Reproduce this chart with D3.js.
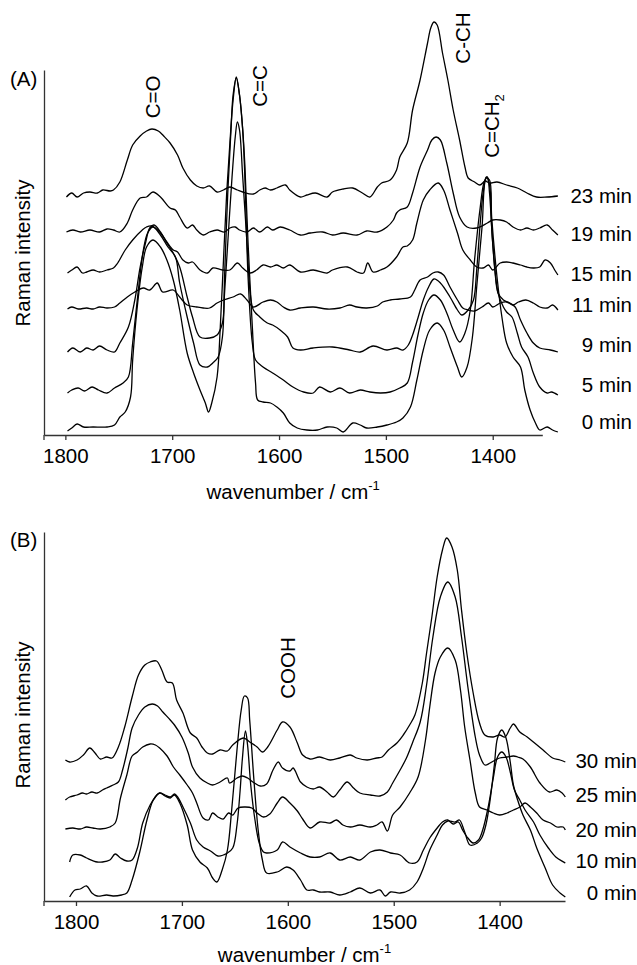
<!DOCTYPE html>
<html><head><meta charset="utf-8">
<script src="https://cdn.jsdelivr.net/npm/d3@7"></script>
<style>
html,body{margin:0;padding:0;background:#fff;}
svg{display:block;}
text{font-family:"Liberation Sans",Arial,Helvetica,sans-serif;fill:#000;}
</style></head><body>
<svg id="chart" width="637" height="965"></svg>
<script>
// ---------- DATA ----------
const wnTicks = [1800, 1700, 1600, 1500, 1400];
const xTitle = "wavenumber / cm";
const xTitleSup = "-1";
const yTitle = "Raman intensity";
const panelTags = ["(A)", "(B)"];

const timesA = ["23 min", "19 min", "15 min", "11 min", "9 min", "5 min", "0 min"];
const timesB = ["30 min", "25 min", "20 min", "10 min", "0 min"];

// band annotations: [label, subscript, wavenumber, intensity]
const bandsA = [["C=O", "", 1711, 338], ["C=C", "", 1611, 349], ["C-CH", "", 1421, 397], ["C=CH", "2", 1394, 309]];
const bandsB = [["COOH", "", 1593, 233]];

// Panel A spectra: [wavenumber (cm-1), intensity (a.u., offset)]
const a23 = [[1799,238],[1794,242],[1789,238],[1783,242],[1777,243],[1770,242],[1765,245],[1758,244],[1755,245],[1749,253],[1742,275],[1737,290],[1730,299],[1724,304],[1719,306],[1713,304],[1708,299],[1702,292],[1695,280],[1690,267],[1683,255],[1677,249],[1671,247],[1665,249],[1658,243],[1652,245],[1646,248],[1639,245],[1634,243],[1624,241],[1618,245],[1613,247],[1608,245],[1602,247],[1594,250],[1590,245],[1580,238],[1574,240],[1566,242],[1555,238],[1550,243],[1540,246],[1531,247],[1522,242],[1515,238],[1508,248],[1504,252],[1496,255],[1490,265],[1487,278],[1480,292],[1475,325],[1468,355],[1461,392],[1458,407],[1455,413],[1452,410],[1447,382],[1442,355],[1437,325],[1431,295],[1426,268],[1423,257],[1417,253],[1412,250],[1407,254],[1403,252],[1396,253],[1387,250],[1377,247],[1368,242],[1359,238],[1349,238],[1339,239]];
const a19 = [[1799,203],[1793,205],[1786,203],[1777,205],[1768,203],[1761,206],[1755,205],[1749,203],[1742,212],[1737,225],[1730,237],[1724,238],[1718,243],[1711,238],[1702,227],[1697,225],[1693,218],[1686,207],[1681,210],[1677,205],[1671,200],[1665,203],[1658,205],[1651,203],[1646,207],[1641,208],[1637,205],[1630,203],[1624,207],[1618,203],[1611,208],[1606,205],[1599,208],[1590,205],[1580,200],[1571,202],[1559,203],[1550,200],[1540,202],[1527,200],[1518,204],[1508,203],[1499,208],[1493,215],[1490,222],[1487,225],[1480,228],[1475,242],[1468,268],[1461,285],[1457,295],[1453,298],[1449,295],[1443,272],[1437,242],[1431,218],[1424,208],[1415,207],[1405,212],[1400,215],[1393,215],[1387,213],[1381,208],[1374,205],[1368,207],[1362,205],[1356,207],[1349,210],[1344,205],[1339,200]];
const a15 = [[1798,162],[1794,165],[1789,168],[1784,162],[1780,163],[1774,165],[1768,163],[1761,165],[1755,167],[1751,172],[1744,185],[1737,195],[1728,205],[1724,208],[1719,209],[1711,202],[1705,193],[1699,185],[1695,183],[1690,175],[1685,172],[1681,173],[1674,165],[1667,162],[1662,167],[1653,165],[1646,165],[1639,172],[1634,167],[1627,162],[1621,165],[1615,170],[1608,168],[1602,170],[1596,167],[1590,170],[1580,163],[1568,165],[1555,162],[1550,165],[1536,168],[1527,163],[1521,162],[1517,172],[1512,163],[1505,165],[1499,168],[1490,178],[1484,188],[1480,189],[1475,195],[1471,212],[1465,235],[1459,245],[1451,252],[1446,245],[1440,225],[1433,202],[1428,185],[1421,175],[1415,168],[1409,167],[1404,170],[1400,165],[1393,172],[1387,173],[1381,172],[1374,170],[1368,168],[1362,167],[1356,168],[1351,175],[1346,172],[1342,165],[1339,160]];
const a11 = [[1798,126],[1794,128],[1788,126],[1780,127],[1774,126],[1768,128],[1761,127],[1754,128],[1749,132],[1742,138],[1735,143],[1727,147],[1721,145],[1714,152],[1709,143],[1699,145],[1693,138],[1686,130],[1677,128],[1671,127],[1665,127],[1658,132],[1652,135],[1643,138],[1636,141],[1630,135],[1624,128],[1615,133],[1608,135],[1602,133],[1596,128],[1590,125],[1580,127],[1568,128],[1555,126],[1543,127],[1534,130],[1527,128],[1518,127],[1508,129],[1503,133],[1496,135],[1487,136],[1477,138],[1473,145],[1468,155],[1461,158],[1456,162],[1451,163],[1446,160],[1440,148],[1433,135],[1428,127],[1423,125],[1417,124],[1410,128],[1404,132],[1400,128],[1393,132],[1387,133],[1381,130],[1376,133],[1369,135],[1362,132],[1356,128],[1349,127],[1344,130],[1339,125]];
const a9 = [[1798,83],[1793,87],[1786,83],[1780,87],[1774,85],[1768,89],[1761,85],[1754,83],[1749,92],[1741,108],[1735,135],[1730,168],[1725,192],[1721,207],[1717,210],[1711,203],[1705,192],[1699,182],[1693,168],[1686,138],[1681,118],[1674,98],[1665,97],[1658,100],[1653,112],[1651,142],[1648,192],[1644,258],[1641,298],[1639,313],[1637,305],[1634,258],[1630,192],[1627,142],[1624,125],[1618,118],[1611,112],[1606,110],[1599,105],[1592,98],[1587,87],[1580,85],[1568,87],[1550,88],[1534,85],[1524,83],[1512,89],[1499,85],[1490,87],[1484,85],[1479,90],[1475,100],[1470,117],[1465,135],[1460,148],[1455,156],[1449,152],[1440,138],[1433,125],[1429,120],[1423,125],[1418,135],[1415,165],[1412,208],[1409,242],[1406,258],[1403,250],[1401,208],[1398,165],[1395,142],[1390,135],[1384,132],[1379,128],[1374,115],[1368,102],[1362,92],[1356,87],[1346,85],[1339,83]];
const a5 = [[1798,42],[1794,45],[1788,47],[1782,44],[1775,48],[1769,45],[1761,42],[1754,47],[1746,52],[1741,58],[1737,92],[1732,142],[1727,185],[1723,202],[1718,208],[1711,200],[1704,188],[1697,178],[1693,152],[1686,118],[1680,92],[1674,70],[1667,68],[1662,72],[1657,78],[1653,98],[1651,158],[1648,242],[1645,305],[1643,340],[1640,357],[1637,340],[1634,305],[1632,258],[1629,158],[1625,92],[1622,75],[1615,68],[1606,62],[1596,55],[1587,48],[1577,43],[1568,42],[1562,48],[1552,43],[1543,47],[1534,42],[1524,45],[1515,43],[1505,42],[1496,43],[1487,47],[1480,52],[1475,73],[1470,100],[1465,122],[1460,135],[1455,140],[1449,135],[1443,122],[1437,105],[1431,93],[1426,102],[1421,125],[1417,175],[1412,225],[1408,253],[1405,258],[1403,242],[1400,192],[1395,142],[1390,128],[1387,123],[1382,118],[1377,102],[1373,88],[1367,78],[1362,62],[1356,48],[1349,42],[1345,43],[1339,40]];
const a0 = [[1798,4],[1794,7],[1789,11],[1783,8],[1774,8],[1761,8],[1754,10],[1749,18],[1744,23],[1739,38],[1737,75],[1733,125],[1728,168],[1724,188],[1718,195],[1711,188],[1705,175],[1699,155],[1693,125],[1686,82],[1680,62],[1674,45],[1669,32],[1666,23],[1663,32],[1658,58],[1655,108],[1652,175],[1649,242],[1646,292],[1643,335],[1640,358],[1637,340],[1634,305],[1632,270],[1629,192],[1625,108],[1622,52],[1620,35],[1615,33],[1608,32],[1602,28],[1596,22],[1590,12],[1583,7],[1574,5],[1564,5],[1555,8],[1546,7],[1540,3],[1531,12],[1524,10],[1518,7],[1508,8],[1499,10],[1490,13],[1484,17],[1477,28],[1471,55],[1465,85],[1459,105],[1452,112],[1446,105],[1440,88],[1433,68],[1429,58],[1424,68],[1419,98],[1415,148],[1410,208],[1406,257],[1403,255],[1401,218],[1396,158],[1391,115],[1387,92],[1381,78],[1374,68],[1370,45],[1365,25],[1360,12],[1356,5],[1349,8],[1344,5],[1339,3]];

// Panel B spectra
const b30 = [[1810,141],[1806,139],[1799,141],[1793,146],[1787,153],[1782,148],[1777,142],[1771,144],[1766,143],[1760,154],[1754,174],[1747,204],[1741,226],[1735,236],[1730,239],[1724,240],[1719,231],[1714,219],[1709,218],[1705,201],[1699,188],[1692,168],[1686,163],[1681,154],[1676,148],[1671,147],[1664,151],[1657,150],[1652,156],[1642,163],[1636,159],[1629,154],[1624,149],[1619,154],[1610,171],[1605,179],[1598,174],[1591,158],[1586,146],[1579,142],[1570,144],[1560,141],[1551,143],[1541,146],[1535,143],[1525,141],[1516,143],[1511,144],[1505,151],[1497,158],[1491,166],[1485,176],[1480,186],[1473,218],[1469,248],[1464,284],[1459,324],[1454,351],[1450,363],[1445,354],[1440,331],[1436,291],[1431,248],[1425,208],[1419,178],[1414,166],[1406,164],[1400,166],[1395,164],[1390,173],[1387,177],[1381,169],[1374,164],[1367,158],[1359,151],[1350,143],[1343,141],[1338,139]];
const b25 = [[1810,101],[1806,104],[1799,106],[1794,108],[1790,107],[1785,109],[1780,108],[1775,111],[1771,113],[1765,116],[1760,119],[1756,131],[1751,153],[1747,173],[1741,186],[1735,194],[1728,197],[1723,195],[1718,189],[1711,181],[1707,176],[1700,164],[1694,148],[1690,134],[1683,123],[1676,118],[1671,116],[1664,119],[1657,123],[1655,118],[1648,123],[1643,125],[1638,123],[1633,119],[1626,115],[1620,117],[1614,131],[1609,139],[1605,133],[1598,130],[1595,133],[1588,119],[1582,114],[1576,112],[1570,114],[1563,109],[1557,104],[1551,111],[1544,119],[1538,113],[1532,108],[1522,106],[1513,105],[1506,109],[1501,118],[1494,131],[1488,143],[1482,159],[1475,179],[1469,216],[1463,264],[1456,304],[1449,319],[1442,304],[1436,264],[1430,214],[1423,164],[1419,146],[1414,136],[1409,138],[1404,141],[1400,143],[1393,144],[1387,145],[1383,144],[1378,142],[1371,134],[1362,118],[1353,109],[1346,111],[1341,108],[1338,104]];
const b20 = [[1810,72],[1803,73],[1796,72],[1790,74],[1784,73],[1777,72],[1768,74],[1763,78],[1758,103],[1752,126],[1747,145],[1742,149],[1737,154],[1730,157],[1725,156],[1721,153],[1714,145],[1708,134],[1702,126],[1695,116],[1690,108],[1686,98],[1680,83],[1675,81],[1671,88],[1666,84],[1661,82],[1656,88],[1652,86],[1647,93],[1640,94],[1634,93],[1629,88],[1623,84],[1617,87],[1610,98],[1605,104],[1598,98],[1591,90],[1586,82],[1579,73],[1570,79],[1560,78],[1554,81],[1548,76],[1541,74],[1532,76],[1522,74],[1516,76],[1511,79],[1506,70],[1501,86],[1494,94],[1485,108],[1477,124],[1470,161],[1466,194],[1461,228],[1456,244],[1449,253],[1442,241],[1437,211],[1433,174],[1428,141],[1423,108],[1419,94],[1412,91],[1406,88],[1400,86],[1393,88],[1387,91],[1381,94],[1376,98],[1371,94],[1365,88],[1359,81],[1352,78],[1346,74],[1340,74],[1338,71]];
const b10 = [[1806,39],[1803,46],[1796,46],[1790,43],[1780,39],[1775,39],[1768,41],[1763,47],[1758,43],[1752,40],[1747,41],[1742,53],[1737,78],[1730,96],[1725,104],[1721,108],[1716,106],[1711,104],[1707,107],[1704,104],[1699,94],[1692,78],[1686,61],[1680,54],[1673,50],[1666,45],[1657,48],[1652,53],[1648,76],[1645,111],[1643,141],[1640,170],[1638,156],[1635,116],[1631,81],[1627,58],[1623,49],[1620,48],[1610,51],[1605,59],[1598,54],[1588,48],[1579,44],[1570,44],[1560,48],[1551,41],[1541,44],[1532,41],[1522,49],[1513,51],[1503,48],[1494,46],[1485,38],[1478,39],[1472,51],[1466,63],[1459,73],[1454,79],[1449,81],[1444,77],[1439,79],[1435,71],[1430,63],[1425,58],[1420,61],[1416,71],[1411,93],[1406,123],[1402,144],[1398,149],[1394,144],[1390,129],[1386,111],[1381,101],[1376,91],[1368,79],[1362,66],[1354,53],[1347,44],[1338,38]];
const b0 = [[1806,4],[1801,11],[1796,12],[1790,15],[1785,8],[1780,5],[1771,6],[1765,5],[1757,6],[1752,8],[1747,21],[1740,48],[1733,81],[1727,101],[1721,108],[1716,105],[1711,103],[1707,106],[1702,98],[1695,76],[1690,51],[1683,39],[1676,33],[1671,23],[1667,19],[1662,31],[1657,51],[1653,91],[1648,151],[1644,191],[1641,205],[1638,203],[1636,181],[1632,121],[1628,71],[1624,41],[1620,28],[1610,29],[1601,34],[1595,31],[1588,21],[1582,11],[1576,11],[1570,9],[1560,9],[1551,6],[1541,9],[1532,13],[1522,8],[1513,11],[1508,5],[1503,9],[1494,8],[1485,11],[1478,19],[1472,33],[1466,51],[1459,66],[1454,76],[1449,80],[1442,79],[1438,81],[1433,69],[1428,56],[1421,58],[1417,63],[1413,76],[1409,101],[1405,136],[1402,163],[1398,171],[1394,163],[1390,139],[1387,116],[1383,101],[1378,86],[1371,71],[1365,53],[1357,33],[1350,16],[1343,8],[1338,4]];

const seriesA = [a23, a19, a15, a11, a9, a5, a0];
const seriesB = [b30, b25, b20, b10, b0];

// ---------- LAYOUT ----------
const FONT = 20.5;
const panels = [
  { tag: panelTags[0], series: seriesA, times: timesA, bands: bandsA,
    xDomain: [1820, 1353.6], xRange: [44, 542.3], yMax: 365, yBottom: 435, yTop: 70,
    labelX: 632, labelNudge: [7, 6, 6, 2, 0, -3, -3], tagY: 86, titleY: 499, yTitleY: 253 },
  { tag: panelTags[1], series: seriesB, times: timesB, bands: bandsB,
    xDomain: [1830.2, 1338.3], xRange: [44, 565], yMax: 369, yBottom: 901, yTop: 532,
    labelX: 637, labelNudge: [6, 5, 7, 5, 3], tagY: 547, titleY: 962, yTitleY: 715 }
];

const svg = d3.select("#chart");

panels.forEach(p => {
  const x = d3.scaleLinear().domain(p.xDomain).range(p.xRange);
  const y = d3.scaleLinear().domain([0, p.yMax]).range([p.yBottom, p.yTop]);
  const g = svg.append("g");

  // x axis
  const xa = g.append("g").attr("transform", `translate(0,${p.yBottom})`)
    .call(d3.axisBottom(x).tickValues(wnTicks).tickFormat(d3.format("d"))
      .tickSize(5).tickSizeOuter(0).tickPadding(8));
  xa.selectAll("path, line").attr("stroke", "#333").attr("stroke-width", 1.3);
  xa.selectAll("text").attr("font-size", FONT).attr("font-family", '"Liberation Sans",Arial,sans-serif').attr("fill", "#000");
  xa.attr("font-family", null).attr("font-size", null);

  // y axis (no ticks)
  const ya = g.append("g").attr("transform", `translate(${p.xRange[0]},0)`)
    .call(d3.axisLeft(y).tickValues([]).tickSizeOuter(0));
  ya.selectAll("path").attr("stroke", "#333").attr("stroke-width", 1.3);
  g.append("line").attr("x1", p.xRange[0]).attr("x2", p.xRange[0])
    .attr("y1", p.yBottom).attr("y2", p.yBottom + 5).attr("stroke", "#333").attr("stroke-width", 1.3);

  // spectra
  const line = d3.line().x(d => x(d[0])).y(d => y(d[1])).curve(d3.curveCatmullRom.alpha(0.5));
  p.series.forEach((s, i) => {
    g.append("path").datum(s).attr("d", line)
      .attr("fill", "none").attr("stroke", "#000").attr("stroke-width", 1.3)
      .attr("stroke-linejoin", "round");
    const last = s[s.length - 1];
    g.append("text").attr("x", p.labelX).attr("y", y(last[1]) + p.labelNudge[i])
      .attr("text-anchor", "end").attr("font-size", FONT).text(p.times[i]);
  });

  // band annotations (rotated)
  p.bands.forEach(b => {
    const t = g.append("text")
      .attr("transform", `translate(${x(b[2])},${y(b[3])}) rotate(-90)`)
      .attr("text-anchor", "middle").attr("font-size", FONT);
    t.append("tspan").text(b[0]);
    if (b[1]) t.append("tspan").attr("font-size", 13).attr("dy", 5).text(b[1]);
  });

  // x title
  const xt = g.append("text").attr("x", (p.xRange[0] + p.xRange[1]) / 2).attr("y", p.titleY)
    .attr("text-anchor", "middle").attr("font-size", FONT);
  xt.append("tspan").text(xTitle);
  xt.append("tspan").attr("font-size", 13).attr("dy", -9).text(xTitleSup);

  // y title
  g.append("text").attr("transform", `translate(30,${p.yTitleY}) rotate(-90)`)
    .attr("text-anchor", "middle").attr("font-size", FONT).text(yTitle);

  // panel tag
  g.append("text").attr("x", 10).attr("y", p.tagY).attr("font-size", FONT).text(p.tag);
});
</script>
</body></html>
